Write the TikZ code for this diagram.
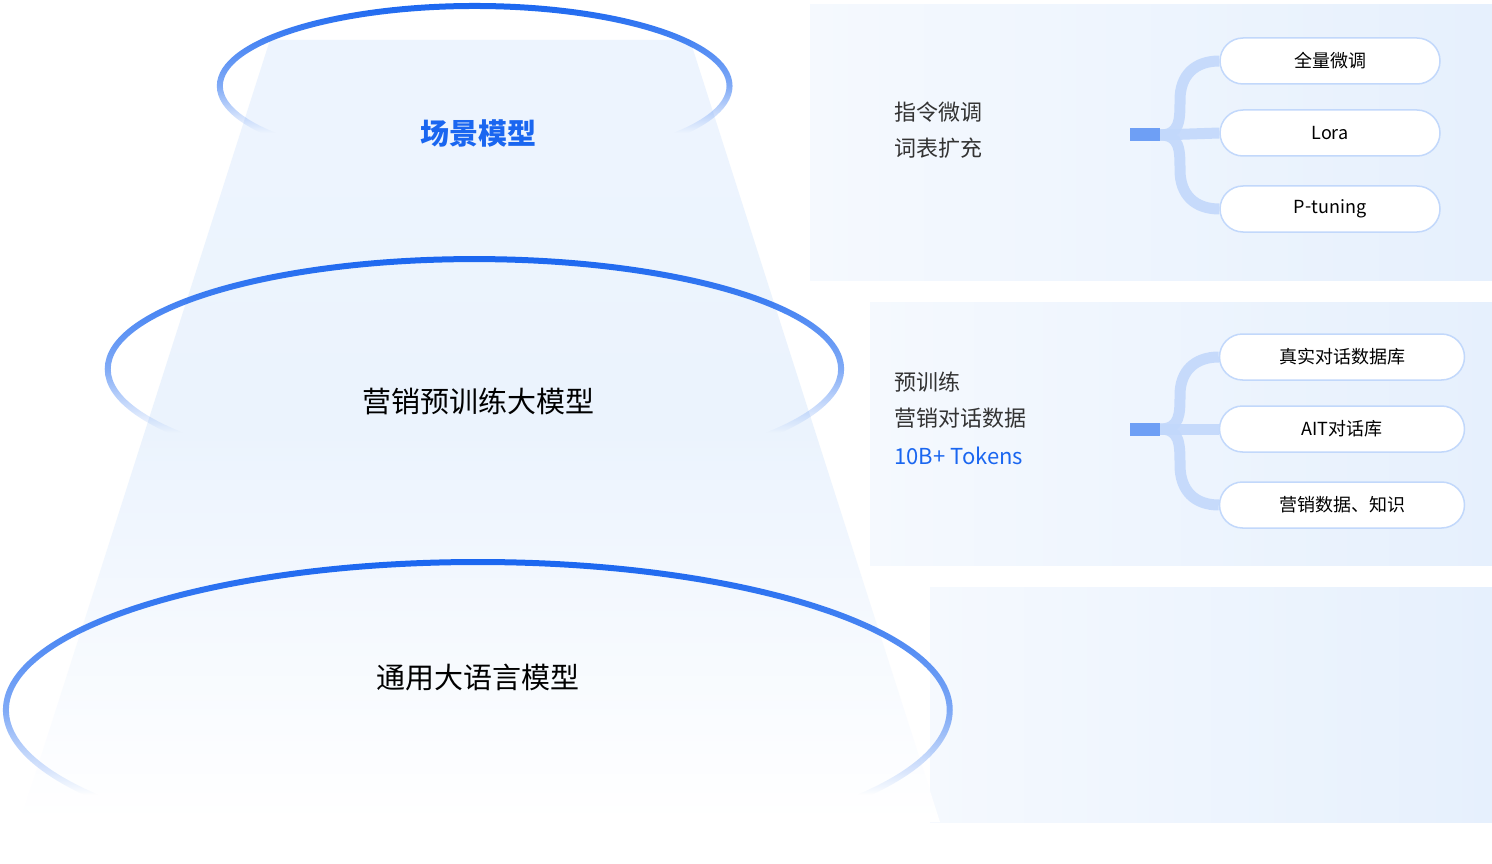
\documentclass[tikz,border=0pt]{standalone}
\usepackage{fontspec}
\setmainfont{Noto Sans CJK SC}
\usetikzlibrary{fadings}
\definecolor{bb}{HTML}{1A66F0}
\definecolor{lb}{HTML}{C2D8FB}
\definecolor{pb}{HTML}{E6F0FD}
\pgfdeclareverticalshading{rfsh}{100bp}{color(0bp)=(pgftransparent!100); color(25bp)=(pgftransparent!100); color(36bp)=(pgftransparent!100); color(50bp)=(pgftransparent!45); color(75bp)=(pgftransparent!0); color(100bp)=(pgftransparent!0)}
\pgfdeclarefading{ringfade}{\pgfuseshading{rfsh}}
\tikzset{
  pill/.style={draw=lb, line width=1.5pt, fill=white, rounded corners=23pt, minimum height=46pt, font=\fontsize{18pt}{22pt}\selectfont},
  branch/.style={draw=lb, line width=11pt, opacity=0.9},
  ring/.style={draw=bb, line width=6pt, path fading=ringfade, fit fading=true},
  rt/.style={anchor=west, font=\fontsize{22pt}{26pt}\selectfont, text=black!80}
}
\begin{document}
\begin{tikzpicture}[x=1pt,y=-1pt]
\useasboundingbox (0,0) rectangle (1492,864);
\fill[white] (0,0) rectangle (1492,864);
% panels
\shade[left color=white!60!pb, right color=pb] (810,5) rectangle (1492,280);
\shade[left color=white!60!pb, right color=pb] (870,302) rectangle (1492,565);
\shade[left color=white!60!pb, right color=pb] (930,587) rectangle (1492,822);
% funnel
\shade[top color=pb!70!white, bottom color=white, middle color=pb!80!white] (270,40) -- (690,40) -- (940,822) -- (20,822) -- cycle;
% rings
\draw[ring] (475,86) ellipse (255 and 80);
\draw[ring] (475,369) ellipse (367 and 110);
\draw[ring] (478,710) ellipse (472 and 148);
\fill[white] (0,826) rectangle (1492,864);
\node (t1) at (478,133) {\fontsize{29pt}{34pt}\selectfont\bfseries\color{bb}场景模型};
\node (t2) at (478,401) {\fontsize{29pt}{34pt}\selectfont 营销预训练大模型};
\node (t3) at (478,678) {\fontsize{29pt}{34pt}\selectfont 通用大语言模型};
% right texts
\node[rt] (r1) at (891,112) {指令微调};
\node[rt] (r2) at (891,148) {词表扩充};
\node[rt] (r3) at (891,382) {预训练};
\node[rt] (r4) at (891,418) {营销对话数据};
\node[rt, text=bb] (r5) at (891,456) {10B+ Tokens};
% pills group 1
\node[pill, minimum width=220pt] (p1) at (1330,61) {全量微调};
\node[pill, minimum width=220pt] (p2) at (1330,133) {Lora};
\node[pill, minimum width=220pt] (p3) at (1330,209) {P\raisebox{1pt}{-}tuning};
\coordinate (s1) at (1130,135);
\coordinate (j1) at (1160,135);
\draw[branch] (j1) -- (p2.west);
\draw[branch] (j1) .. controls (1180,135) and (1180,120) .. (1180,100) .. controls (1180,75) and (1195,61) .. (p1.west);
\draw[branch] (j1) .. controls (1180,135) and (1180,150) .. (1180,170) .. controls (1180,195) and (1195,209) .. (p3.west);
\draw[draw=bb!50!lb, line width=13pt] (s1) -- (j1);
% pills group 2
\node[pill, minimum width=245pt] (q1) at (1342,357) {真实对话数据库};
\node[pill, minimum width=245pt] (q2) at (1342,429) {AIT对话库};
\node[pill, minimum width=245pt] (q3) at (1342,505) {营销数据、知识};
\coordinate (s2) at (1130,429);
\coordinate (j2) at (1160,429);
\draw[branch] (j2) -- (q2.west);
\draw[branch] (j2) .. controls (1180,429) and (1180,414) .. (1180,395) .. controls (1180,371) and (1195,357) .. (q1.west);
\draw[branch] (j2) .. controls (1180,429) and (1180,444) .. (1180,465) .. controls (1180,491) and (1195,505) .. (q3.west);
\draw[draw=bb!50!lb, line width=13pt] (s2) -- (j2);
\end{tikzpicture}
\end{document}
